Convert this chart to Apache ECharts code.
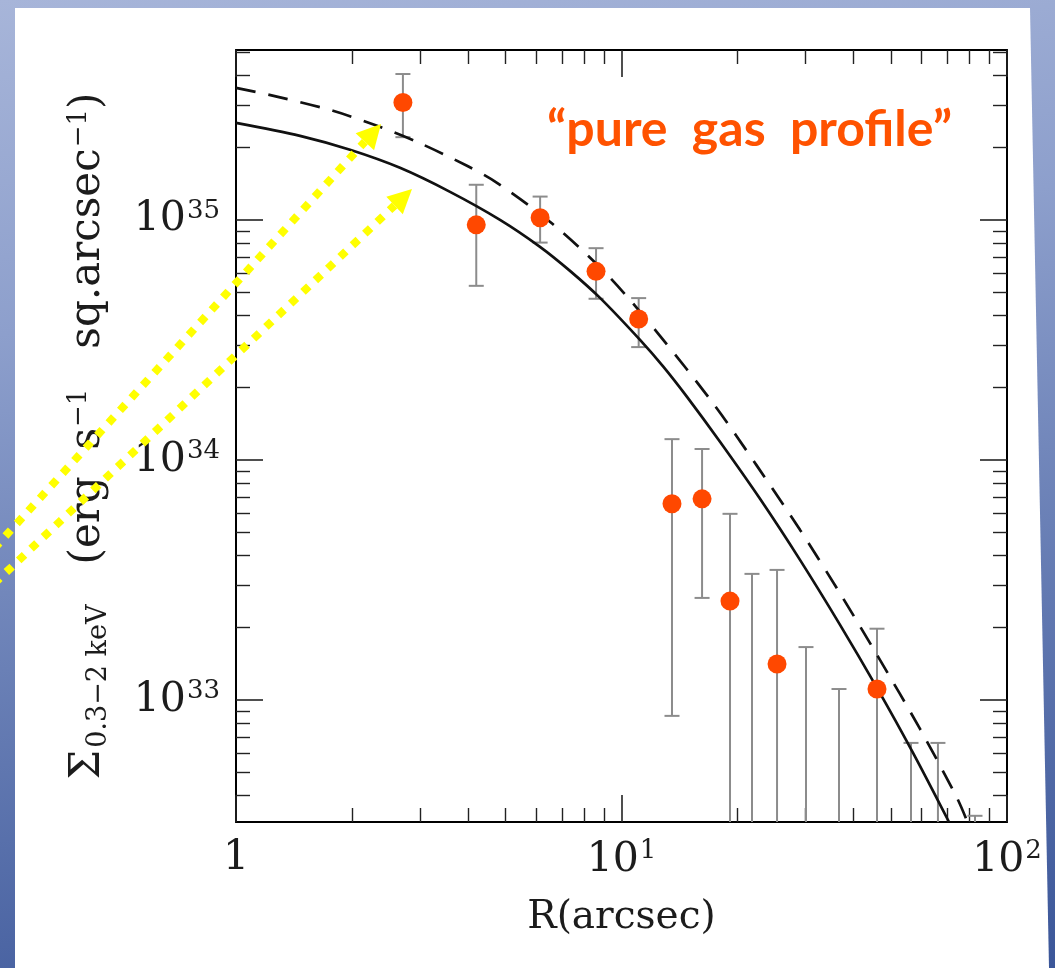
<!DOCTYPE html>
<html>
<head>
<meta charset="utf-8">
<script src="https://cdn.jsdelivr.net/npm/echarts@6/dist/echarts.min.js"></script>
<style>
  html, body { margin: 0; padding: 0; }
  body {
    width: 1055px; height: 968px; overflow: hidden; position: relative;
    background: linear-gradient(172deg, #a7b5d9 0%, #8d9fcc 30%, #6a80b6 60%, #3b5699 100%);
  }
  #panel {
    position: absolute; left: 0; top: 0; width: 1055px; height: 968px; background: #fff;
    clip-path: polygon(15px 8px, 1030px 8px, 1049px 968px, 15px 968px);
  }
  #chart { position: absolute; left: 0; top: 0; width: 1055px; height: 968px; }
</style>
</head>
<body>
<div id="panel"></div>
<div id="chart"></div>
<script>
// Axis ranges (R in arcsec, surface brightness in erg s^-1 sq.arcsec^-1)
const X_MIN = 1, X_MAX = 100;
const Y_MIN = 3.1e32, Y_MAX = 5.1e35;

// Tick positions and labels
const xTickValues = [1, 10, 100];
const xTickText = [['1', ''], ['10', '1'], ['10', '2']];
const xMinorTicks = [2, 3, 4, 5, 6, 7, 8, 9, 20, 30, 40, 50, 60, 70, 80, 90];
const yTickValues = [1e33, 1e34, 1e35];
const yTickText = [['10', '33'], ['10', '34'], ['10', '35']];
const yMinorTicks = [
  4e32, 5e32, 6e32, 7e32, 8e32, 9e32,
  2e33, 3e33, 4e33, 5e33, 6e33, 7e33, 8e33, 9e33,
  2e34, 3e34, 4e34, 5e34, 6e34, 7e34, 8e34, 9e34,
  2e35, 3e35, 4e35, 5e35
];

// Measured profile points
const pointR = [2.71, 4.2, 6.15, 8.59, 11.08, 13.52, 16.18, 19.12, 25.32, 46.0];
const pointS = [3.08e35, 9.53e34, 1.02e35, 6.10e34, 3.86e34, 6.56e33, 6.88e33, 2.58e33, 1.41e33, 1.11e33];

// Error bars: radius, lower end (null = runs below the frame), upper end
const barR    = [2.71, 4.2, 6.15, 8.59, 11.08, 13.52, 16.18, 19.12, 21.8, 25.32, 30.1, 36.66, 46.0, 56.36, 66.2, 82.6];
const barLow  = [2.21e35, 5.31e34, 8.04e34, 4.69e34, 2.95e34, 8.58e32, 2.66e33, null, null, null, null, null, null, null, null, null];
const barHigh = [4.05e35, 1.40e35, 1.25e35, 7.62e34, 4.72e34, 1.22e34, 1.11e34, 5.96e33, 3.35e33, 3.48e33, 1.66e33, 1.11e33, 1.98e33, 6.62e32, 6.62e32, 3.29e32];

// Model profiles
const solidR = [1, 1.466, 1.976, 2.663, 3.591, 4.84, 6.146, 7.352, 8.796, 11.17, 12.82, 14.79, 18.01, 22.87, 29.04, 36.89, 46.0, 57.05, 70.72];
const solidS = [2.536e35, 2.239e35, 1.958e35, 1.647e35, 1.308e35, 1.0e35, 7.72e34, 6.13e34, 4.73e34, 3.162e34, 2.452e34, 1.830e34, 1.189e34, 6.88e33, 3.831e33, 2.054e33, 1.122e33, 6.016e32, 3.10e32];
const dashedR = [1, 1.301, 1.785, 2.322, 2.948, 3.974, 4.754, 6.643, 9.172, 12.37, 17.48, 22.46, 29.04, 36.89, 46.29, 59.48, 74.19, 78.97];
const dashedS = [3.548e35, 3.239e35, 2.846e35, 2.465e35, 2.113e35, 1.679e35, 1.427e35, 9.58e34, 5.917e34, 3.399e34, 1.679e34, 9.44e33, 5.11e33, 2.778e33, 1.514e33, 7.57e32, 3.906e32, 3.10e32];

const SERIF = 'DejaVu Serif';
const INK = '#1c1c1c';

function pairs(xs, ys) { return xs.map((x, i) => [x, ys[i]]); }

function logLabel(values, texts) {
  return function (v) {
    const i = values.findIndex(t => Math.abs(Math.log10(t) - Math.log10(v)) < 1e-6);
    if (i < 0) return '';
    const [b, e] = texts[i];
    return e ? '{b|' + b + '}{e|' + e + '}' : '{b|' + b + '}';
  };
}

const tickRich = {
  b: { fontFamily: SERIF, fontSize: 41, color: INK },
  e: { fontFamily: SERIF, fontSize: 26, color: INK, padding: [0, 0, 18, 1] }
};

function majorAxis(kind, position, withLabels) {
  const isX = kind === 'x';
  return {
    type: 'log', logBase: 10,
    min: isX ? X_MIN : Y_MIN, max: isX ? X_MAX : Y_MAX,
    position: position,
    axisLine: { show: true, onZero: false, lineStyle: { color: '#000', width: 2 } },
    axisTick: { show: true, inside: true, length: 27, customValues: isX ? xTickValues : yTickValues,
                lineStyle: { color: '#222', width: 1.6 } },
    axisLabel: withLabels ? {
      show: true, customValues: isX ? xTickValues : yTickValues,
      formatter: isX ? logLabel(xTickValues, xTickText) : logLabel(yTickValues, yTickText),
      rich: tickRich, margin: 16
    } : { show: false },
    splitLine: { show: false },
    minorTick: { show: false }
  };
}

function minorAxis(kind, position) {
  const isX = kind === 'x';
  return {
    type: 'log', logBase: 10,
    min: isX ? X_MIN : Y_MIN, max: isX ? X_MAX : Y_MAX,
    position: position,
    axisLine: { show: false, onZero: false },
    axisTick: { show: true, inside: true, length: 14, customValues: isX ? xMinorTicks : yMinorTicks,
                lineStyle: { color: '#222', width: 1.4 } },
    axisLabel: { show: false },
    splitLine: { show: false },
    minorTick: { show: false }
  };
}

const xBottom = majorAxis('x', 'bottom', true);
xBottom.name = 'R(arcsec)';
xBottom.nameLocation = 'middle';
xBottom.nameGap = 76;
xBottom.nameTextStyle = { fontFamily: SERIF, fontSize: 39, color: INK };

const yLeft = majorAxis('y', 'left', true);
yLeft.name = '{m|Σ}{s|0.3−2 keV}{m|   (erg  s}{p|−1}{m|   sq.arcsec}{p|−1}{m|)}';
yLeft.nameLocation = 'middle';
yLeft.nameRotate = 90;
yLeft.nameGap = 124;
yLeft.nameTextStyle = {
  rich: {
    m: { fontFamily: SERIF, fontSize: 42, color: INK },
    s: { fontFamily: SERIF, fontSize: 27, color: INK, padding: [20, 0, 0, 2] },
    p: { fontFamily: SERIF, fontSize: 26, color: INK, padding: [0, 0, 18, 1] }
  }
};

// Yellow dotted pointer arrows (screen-space annotation)
function dottedArrow(tail, tip, headLen, headHalf) {
  const dx = tip[0] - tail[0], dy = tip[1] - tail[1];
  const L = Math.hypot(dx, dy);
  const ux = dx / L, uy = dy / L, nx = -uy, ny = ux;
  const bx = tip[0] - headLen * ux, by = tip[1] - headLen * uy;
  return [
    { type: 'line', z: 100, silent: true,
      shape: { x1: tail[0], y1: tail[1], x2: bx, y2: by },
      style: { stroke: '#ffff00', lineWidth: 8, lineDash: [8, 9], lineCap: 'butt' } },
    { type: 'polygon', z: 100, silent: true,
      shape: { points: [tip, [bx + headHalf * nx, by + headHalf * ny], [bx - headHalf * nx, by - headHalf * ny]] },
      style: { fill: '#ffff00' } }
  ];
}

const chart = echarts.init(document.getElementById('chart'), null, { renderer: 'canvas' });

const option = {
  animation: false,
  backgroundColor: 'transparent',
  grid: { left: 236, right: 48, top: 50, bottom: 146, containLabel: false },
  xAxis: [xBottom, minorAxis('x', 'bottom'), majorAxis('x', 'top', false), minorAxis('x', 'top')],
  yAxis: [yLeft, minorAxis('y', 'left'), majorAxis('y', 'right', false), minorAxis('y', 'right')],
  series: [
    {
      type: 'custom', name: 'errors', xAxisIndex: 0, yAxisIndex: 0, z: 2,
      data: barR.map((r, i) => [r, barHigh[i]]),
      renderItem: function (params, api) {
        const i = params.dataIndex;
        const cs = params.coordSys;
        const bottom = cs.y + cs.height;
        const top = api.coord([barR[i], barHigh[i]]);
        const lowIn = barLow[i] !== null;
        const low = lowIn ? api.coord([barR[i], barLow[i]]) : [top[0], bottom];
        const cap = 7.5;
        const style = { stroke: '#8c8c8c', lineWidth: 2 };
        const children = [
          { type: 'line', shape: { x1: top[0], y1: top[1], x2: low[0], y2: low[1] }, style: style },
          { type: 'line', shape: { x1: top[0] - cap, y1: top[1], x2: top[0] + cap, y2: top[1] }, style: style }
        ];
        if (lowIn) {
          children.push({ type: 'line', shape: { x1: low[0] - cap, y1: low[1], x2: low[0] + cap, y2: low[1] }, style: style });
        }
        return { type: 'group', children: children };
      }
    },
    {
      type: 'line', name: 'model', xAxisIndex: 0, yAxisIndex: 0, z: 3,
      data: pairs(solidR, solidS), smooth: 0.3, showSymbol: false, symbol: 'none',
      lineStyle: { color: '#111', width: 2.7 }
    },
    {
      type: 'line', name: 'pure gas', xAxisIndex: 0, yAxisIndex: 0, z: 3,
      data: pairs(dashedR, dashedS), smooth: 0.3, showSymbol: false, symbol: 'none',
      lineStyle: { color: '#111', width: 2.7, type: [20, 13] }
    },
    {
      type: 'scatter', name: 'data', xAxisIndex: 0, yAxisIndex: 0, z: 4,
      data: pairs(pointR, pointS), symbol: 'circle', symbolSize: 19,
      itemStyle: { color: '#ff4800', opacity: 1 }
    }
  ],
  graphic: [
    { type: 'text', z: 90, left: 547, top: 105, silent: true,
      style: { text: '\u201Cpure  gas  profile\u201D', fontFamily: 'Lato', fontWeight: 'bold',
               fontSize: 50, fill: '#ff5200' } }
  ].concat(
    dottedArrow([-6, 548.6], [381, 124], 24, 12.5),
    dottedArrow([-6, 583.7], [412, 189], 24, 12)
  )
};

chart.setOption(option);
</script>
</body>
</html>
